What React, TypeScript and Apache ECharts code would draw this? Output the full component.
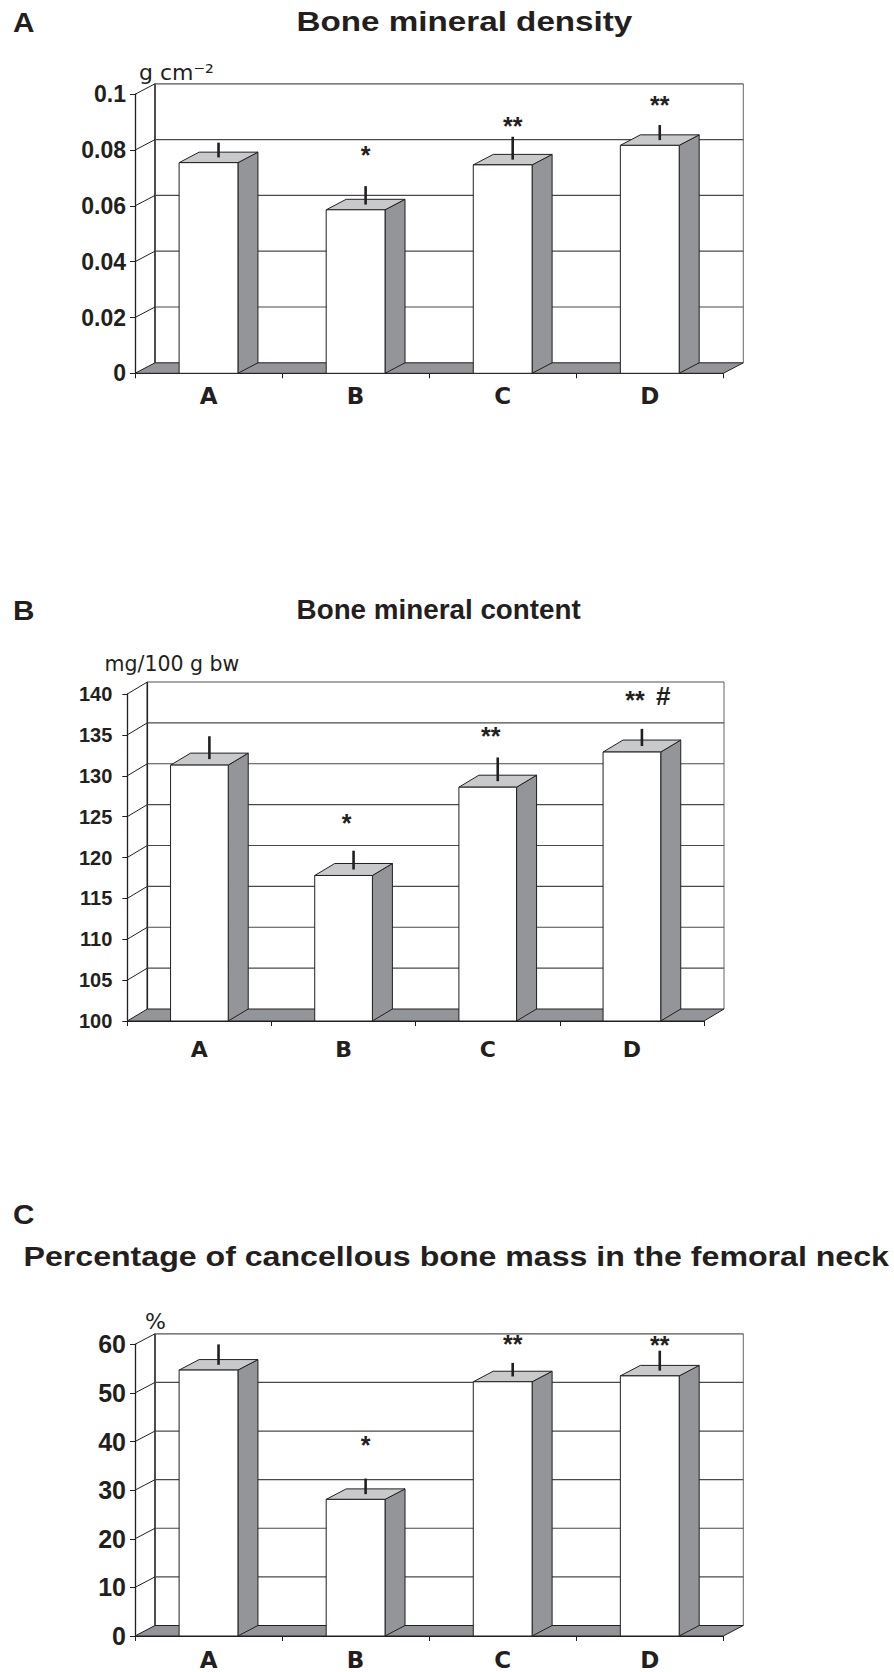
import React, { useEffect, useRef } from 'react';
import * as echarts from 'echarts';

// ---------- data ----------
const categories = ['A', 'B', 'C', 'D'];

// Panel A: Bone mineral density (g cm-2)
const densityTicks = [0, 0.02, 0.04, 0.06, 0.08, 0.1];
const densityTickLabels = ['0', '0.02', '0.04', '0.06', '0.08', '0.1'];
const densityValues = [0.0755, 0.0586, 0.0747, 0.0817];
const densityErrors = [0.0053, 0.0066, 0.0082, 0.0054];
const densityMarks = ['', '*', '**', '**'];
const densityMarkLevels = [0, 0.079, 0.0895, 0.0968];

// Panel B: Bone mineral content (mg/100 g bw)
const contentTicks = [100, 105, 110, 115, 120, 125, 130, 135, 140];
const contentTickLabels = ['100', '105', '110', '115', '120', '125', '130', '135', '140'];
const contentValues = [131.3, 117.8, 128.6, 132.9];
const contentErrors = [2.8, 2.3, 2.9, 2.1];
const contentMarks = ['', '*', '**', '** #'];
const contentMarkLevels = [0, 124.5, 135.1, 139.5];

// Panel C: Percentage of cancellous bone mass in the femoral neck (%)
const cancellousTicks = [0, 10, 20, 30, 40, 50, 60];
const cancellousTickLabels = ['0', '10', '20', '30', '40', '50', '60'];
const cancellousValues = [54.7, 28.1, 52.3, 53.5];
const cancellousErrors = [4.2, 3.2, 2.8, 4.1];
const cancellousMarks = ['', '*', '**', '**'];
const cancellousMarkLevels = [0, 39.6, 60.4, 60.2];

// ---------- layout / style ----------
const INK = '#231f20';
const TOP_FACE = '#c8c9cb';
const SIDE_FACE = '#939598';
const FLOOR = '#939598';
const GRID_LINE = '#4a4a4a';
const FONT = '"Liberation Sans", Arial, sans-serif';
const WIDE = '"DejaVu Sans", "Liberation Sans", sans-serif';

const panels = [
  {
    label: 'A', title: 'Bone mineral density', unit: 'g cm\u207B\u00B2',
    ticks: densityTicks, tickLabels: densityTickLabels, values: densityValues,
    errors: densityErrors, marks: densityMarks, levels: densityMarkLevels,
    grid: { left: 135, top: 94.3, width: 588.3, height: 279 },
    dx: 20, dy: 10.5, markShift: 0,
    yLabel: { size: 23, margin: 9, family: FONT },
    xLabel: { size: 23, margin: 11, family: WIDE },
    labelPos: [13, 22], titlePos: [296.6, 22], titleScale: 1.23,
    unitPos: [139, 72], unitSize: 22,
  },
  {
    label: 'B', title: 'Bone mineral content', unit: 'mg/100 g bw',
    ticks: contentTicks, tickLabels: contentTickLabels, values: contentValues,
    errors: contentErrors, marks: contentMarks, levels: contentMarkLevels,
    grid: { left: 127.3, top: 694, width: 576.7, height: 327 },
    dx: 20, dy: 12, markShift: -7,
    yLabel: { size: 20, margin: 15, family: FONT },
    xLabel: { size: 22, margin: 17, family: WIDE },
    labelPos: [13, 610], titlePos: [296.6, 610], titleScale: 1.03,
    unitPos: [104.5, 664], unitSize: 20.5,
  },
  {
    label: 'C', title: 'Percentage of cancellous bone mass in the femoral neck', unit: '%',
    ticks: cancellousTicks, tickLabels: cancellousTickLabels, values: cancellousValues,
    errors: cancellousErrors, marks: cancellousMarks, levels: cancellousMarkLevels,
    grid: { left: 135, top: 1344.3, width: 588.3, height: 291.7 },
    dx: 20, dy: 10.5, markShift: 0,
    yLabel: { size: 25, margin: 9, family: FONT },
    xLabel: { size: 23, margin: 12, family: WIDE },
    labelPos: [13, 1214], titlePos: [23.5, 1256], titleScale: 1.19,
    unitPos: [145, 1321], unitSize: 22,
  },
];

function buildOption() {
  const grid: any[] = [];
  const xAxis: any[] = [];
  const yAxis: any[] = [];
  const series: any[] = [];
  const graphic: any[] = [];

  panels.forEach((p, i) => {
    const minT = p.ticks[0];
    const maxT = p.ticks[p.ticks.length - 1];
    const dx = p.dx;
    const dy = p.dy;
    grid.push({ ...p.grid, containLabel: false });
    xAxis.push({
      type: 'category', gridIndex: i, data: categories,
      axisLine: { show: true, lineStyle: { color: INK, width: 1 } },
      axisTick: { show: true, length: 5, lineStyle: { color: INK, width: 1 } },
      axisLabel: { margin: p.xLabel.margin, fontSize: p.xLabel.size, fontWeight: 'bold', color: INK, fontFamily: p.xLabel.family },
      splitLine: { show: false },
    });
    yAxis.push({
      type: 'value', gridIndex: i, min: minT, max: maxT, interval: p.ticks[1] - p.ticks[0],
      axisLine: { show: true, lineStyle: { color: INK, width: 1.3 } },
      axisTick: { show: true, length: 5, lineStyle: { color: INK, width: 1 } },
      axisLabel: {
        margin: p.yLabel.margin, fontSize: p.yLabel.size, fontWeight: 'bold', color: INK, fontFamily: p.yLabel.family,
        formatter: (v: number) => {
          const k = p.ticks.findIndex((t) => Math.abs(t - v) < 1e-9);
          return k >= 0 ? p.tickLabels[k] : '';
        },
      },
      splitLine: { show: false },
    });

    // back wall, floor, grid lines
    series.push({
      type: 'custom', xAxisIndex: i, yAxisIndex: i, z: 1, silent: true,
      data: p.ticks.map((t) => [0, t]),
      renderItem: (params: any, api: any) => {
        const cs = params.coordSys;
        const x0 = cs.x;
        const x1 = cs.x + cs.width;
        const v = api.value(1);
        const y = api.coord([0, v])[1];
        const children: any[] = [];
        if (params.dataIndex === 0) {
          const yTop = api.coord([0, maxT])[1];
          children.push({
            type: 'line', shape: { x1: x0 + dx, y1: y - dy, x2: x0 + dx, y2: yTop - dy },
            style: { stroke: INK, lineWidth: 1.6 },
          });
          children.push({
            type: 'line', shape: { x1: x1 + dx, y1: y - dy, x2: x1 + dx, y2: yTop - dy },
            style: { stroke: '#666', lineWidth: 1 },
          });
          children.push({
            type: 'polygon',
            shape: { points: [[x0, y], [x0 + dx, y - dy], [x1 + dx, y - dy], [x1, y]] },
            style: { fill: FLOOR, stroke: INK, lineWidth: 1 },
          });
        } else {
          children.push({
            type: 'line', shape: { x1: x0, y1: y, x2: x0 + dx, y2: y - dy },
            style: { stroke: INK, lineWidth: 1 },
          });
          children.push({
            type: 'line', shape: { x1: x0 + dx, y1: y - dy, x2: x1 + dx, y2: y - dy },
            style: { stroke: v === maxT ? '#555' : GRID_LINE, lineWidth: 1.2 },
          });
        }
        return { type: 'group', children };
      },
    });

    // 3D bars with error bars
    series.push({
      type: 'custom', xAxisIndex: i, yAxisIndex: i, z: 3, silent: true,
      data: p.values.map((v, k) => [k, v, p.errors[k]]),
      renderItem: (params: any, api: any) => {
        const k = api.value(0);
        const v = api.value(1);
        const e = api.value(2);
        const top = api.coord([k, v]);
        const base = api.coord([k, minT]);
        const bw = api.size([1, 0])[0] * 0.4;
        const xl = top[0] - bw / 2;
        const xr = top[0] + bw / 2;
        const yt = top[1];
        const yb = base[1];
        const errTop = api.coord([k, v + e])[1];
        return {
          type: 'group',
          children: [
            {
              type: 'polygon',
              shape: { points: [[xr, yt], [xr + dx, yt - dy], [xr + dx, yb - dy], [xr, yb]] },
              style: { fill: SIDE_FACE, stroke: INK, lineWidth: 1 },
            },
            {
              type: 'polygon',
              shape: { points: [[xl, yt], [xl + dx, yt - dy], [xr + dx, yt - dy], [xr, yt]] },
              style: { fill: TOP_FACE, stroke: INK, lineWidth: 1 },
            },
            {
              type: 'rect', shape: { x: xl, y: yt, width: bw, height: yb - yt },
              style: { fill: '#ffffff', stroke: INK, lineWidth: 1 },
            },
            {
              type: 'line',
              shape: { x1: top[0] + dx / 2, y1: yt - dy / 2, x2: top[0] + dx / 2, y2: errTop - dy / 2 },
              style: { stroke: INK, lineWidth: 2.6 },
            },
          ],
        };
      },
    });

    // significance marks: asterisks centred over the error bar, any extra tag to the right
    series.push({
      type: 'custom', xAxisIndex: i, yAxisIndex: i, z: 4, silent: true,
      data: p.marks.map((m, k) => [k, p.levels[k], k]).filter((d) => p.marks[d[2]] !== ''),
      renderItem: (params: any, api: any) => {
        const k = api.value(0);
        const lvl = api.value(1);
        const idx = api.value(2);
        const pt = api.coord([k, lvl]);
        const ex = pt[0] + dx / 2 + p.markShift;
        const parts = p.marks[idx].split(' ');
        const children: any[] = [
          {
            type: 'text', x: ex, y: pt[1] + 2,
            style: {
              text: parts[0], fontSize: 25, fontWeight: 'bold', fontFamily: FONT,
              fill: INK, align: 'center', verticalAlign: 'middle',
            },
          },
        ];
        if (parts[1]) {
          children.push({
            type: 'text', x: ex + 21, y: pt[1] - 2,
            style: {
              text: parts[1], fontSize: 26, fontWeight: 'bold', fontFamily: FONT,
              fill: INK, align: 'left', verticalAlign: 'middle',
            },
          });
        }
        return { type: 'group', children };
      },
    });

    graphic.push({
      type: 'text', x: p.labelPos[0], y: p.labelPos[1], scaleX: 1.1,
      style: { text: p.label, fontSize: 27, fontWeight: 'bold', fontFamily: FONT, fill: INK, align: 'left', verticalAlign: 'middle' },
    });
    graphic.push({
      type: 'text', x: p.titlePos[0], y: p.titlePos[1], scaleX: p.titleScale,
      style: { text: p.title, fontSize: 27, fontWeight: 'bold', fontFamily: FONT, fill: INK, align: 'left', verticalAlign: 'middle' },
    });
    graphic.push({
      type: 'text', x: p.unitPos[0], y: p.unitPos[1],
      style: { text: p.unit, fontSize: p.unitSize, fontFamily: '"DejaVu Sans", sans-serif', fill: INK, align: 'left', verticalAlign: 'middle' },
    });
  });

  return {
    animation: false,
    backgroundColor: '#ffffff',
    grid, xAxis, yAxis, series, graphic,
  };
}

export default function App() {
  const ref = useRef<HTMLDivElement>(null);
  useEffect(() => {
    if (!ref.current) return;
    const chart = echarts.init(ref.current, undefined, { renderer: 'svg' });
    chart.setOption(buildOption() as any);
    return () => chart.dispose();
  }, []);
  return (
    <div
      ref={ref}
      style={{ position: 'absolute', left: 0, top: 0, width: 894, height: 1672, background: '#fff' }}
    />
  );
}
